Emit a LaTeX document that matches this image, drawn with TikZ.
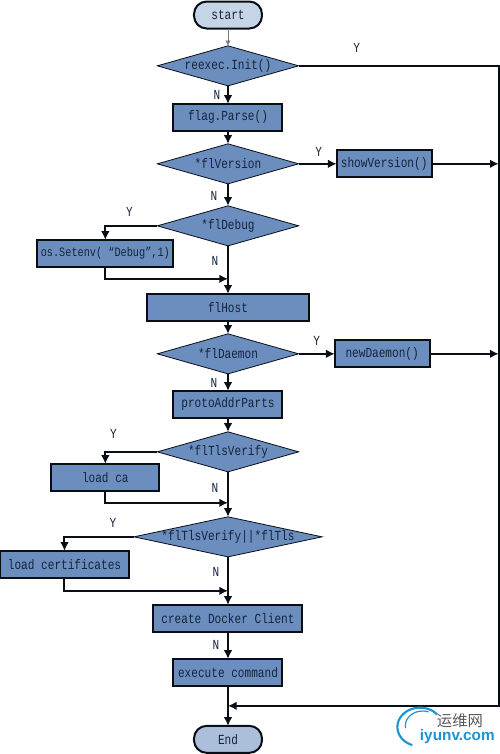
\documentclass[tikz,border=0pt]{standalone}
\usepackage{fontspec}
\usepackage{xcolor}
\usepackage{tikz}
\usetikzlibrary{arrows.meta,positioning,calc,shapes.geometric}
\newfontfamily\cjk{Noto Sans CJK SC}
\newfontfamily\logofont{Liberation Sans}
\newfontfamily\flowfont[FakeStretch=0.8]{Liberation Mono}
\definecolor{ink}{HTML}{080D16}
\definecolor{textink}{HTML}{14233A}
\definecolor{steel}{HTML}{6C8EBF}
\definecolor{pale}{HTML}{C6D4E7}
\definecolor{swirl}{HTML}{1E93D2}
\tikzset{
  >={Latex[length=6.5pt,width=6.5pt]},
  every node/.style={font=\flowfont\fontsize{10.4}{12}\selectfont,text=textink,outer sep=0pt},
  procbox/.style={draw=ink,line width=1.5pt,fill=steel,align=center,inner sep=0pt,minimum height=20.25pt},
  decision/.style={diamond,draw=ink,line width=.6pt,fill=steel,inner sep=0pt,aspect=3.5,minimum height=30pt},
  terminal/.style={draw=ink,line width=1.5pt,rounded corners=9.5pt,inner sep=0pt,minimum width=51pt,minimum height=20.25pt},
  arrow/.style={->,line width=1.5pt,draw=ink},
  faint/.style={->,line width=.4pt,draw=ink!55,>={Latex[length=4pt,width=4pt]}},
  yn/.style={inner sep=0pt},
  logotext/.style={inner sep=0pt,text=swirl}
}
\begin{document}
\begin{tikzpicture}
  \useasboundingbox (-171pt,11.25pt) rectangle (204pt,-554.25pt);

  \node[terminal,fill=pale] (start) at (0,0) {start};
  \node[decision,minimum width=106pt,below=13pt of start] (reexec) {reexec.Init()};
  \node[procbox,minimum width=81.75pt,below=13.5pt of reexec] (flag) {flag.Parse()};
  \node[decision,minimum width=106pt,below=9.75pt of flag] (version) {*flVersion};
  \node[decision,minimum width=106pt,below=16.5pt of version] (debug) {*flDebug};
  \node[procbox,minimum width=122pt,below=36pt of debug] (host) {flHost};
  \node[decision,minimum width=106pt,below=9.75pt of host] (daemon) {*flDaemon};
  \node[procbox,minimum width=81.75pt,below=12.75pt of daemon] (proto) {protoAddrParts};
  \node[decision,minimum width=106pt,below=10.5pt of proto] (tlsverify) {*flTlsVerify};
  \node[decision,aspect=4.7,inner xsep=-2.5pt,minimum width=141pt,below=33.75pt of tlsverify] (tlsor) {*flTlsVerify||*flTls};
  \node[procbox,minimum width=111.75pt,below=36pt of tlsor] (client) {create Docker Client};
  \node[procbox,minimum width=81.75pt,below=20.25pt of client] (exec) {execute command};
  \node[terminal,fill=pale!70!steel,below=30pt of exec] (finish) {End};

  \node[procbox,minimum width=71.25pt,right=28.5pt of version] (showver) {showVersion()};
  \node[procbox,minimum width=71.25pt,right=27pt of daemon] (newdaemon) {newDaemon()};
  \node[procbox,minimum width=102pt,left=-12pt of debug,yshift=-20.6pt] (setenv) {\fontsize{9.6}{11}\selectfont os.Setenv( “Debug”,1)};
  \node[procbox,minimum width=81pt,left=-1.5pt of tlsverify,yshift=-19.1pt] (loadca) {load ca};
  \node[procbox,minimum width=96.75pt,left=3.75pt of tlsor,yshift=-20.6pt] (loadcert) {load certificates};

  \coordinate[right=150pt of reexec] (railtop);
  \coordinate[below=24.75pt of debug] (joindebug);
  \coordinate[below=23.25pt of tlsverify] (joinca);
  \coordinate[below=25.5pt of tlsor] (joincert);
  \coordinate (backin) at ($(exec.south)!.5!(finish.north)$);

  \draw[faint] (start) -- (reexec);
  \draw[arrow] (reexec) -- (flag);
  \draw[arrow] (flag) -- (version);
  \draw[arrow] (version) -- (debug);
  \draw[arrow] (debug) -- (host);
  \draw[arrow] (host) -- (daemon);
  \draw[arrow] (daemon) -- (proto);
  \draw[arrow] (proto) -- (tlsverify);
  \draw[arrow] (tlsverify) -- (tlsor);
  \draw[arrow] (tlsor) -- (client);
  \draw[arrow] (client) -- (exec);
  \draw[arrow] (exec) -- (finish);

  \draw[arrow] (version) -- (showver);
  \draw[arrow] (daemon) -- (newdaemon);
  \draw[arrow] (showver) -- (showver -| railtop);
  \draw[arrow] (newdaemon) -- (newdaemon -| railtop);
  \draw[arrow] (reexec.east) -- (railtop) |- (backin);

  \draw[arrow] (debug.west) -| (setenv.north);
  \draw[arrow] (setenv.south) |- (joindebug);
  \draw[arrow] (tlsverify.west) -| (loadca.north);
  \draw[arrow] (loadca.south) |- (joinca);
  \draw[arrow] (tlsor.west) -| (loadcert.north);
  \draw[arrow] (loadcert.south) |- (joincert);

  \node[yn,xshift=43.5pt,yshift=13.5pt] (yreexec) at (reexec.east) {Y};
  \node[yn,xshift=-8.25pt,yshift=-6.75pt] (nreexec) at (reexec.south) {N};
  \node[yn,xshift=15pt,yshift=9pt] (yversion) at (version.east) {Y};
  \node[yn,xshift=-10.5pt,yshift=-9pt] (nversion) at (version.south) {N};
  \node[yn,xshift=-21pt,yshift=10.5pt] (ydebug) at (debug.west) {Y};
  \node[yn,xshift=-9.75pt,yshift=-11.25pt] (ndebug) at (debug.south) {N};
  \node[yn,xshift=13.5pt,yshift=9.75pt] (ydaemon) at (daemon.east) {Y};
  \node[yn,xshift=-10.5pt,yshift=-6.75pt] (ndaemon) at (daemon.south) {N};
  \node[yn,xshift=-33pt,yshift=13.5pt] (ytlsverify) at (tlsverify.west) {Y};
  \node[yn,xshift=-9.75pt,yshift=-12pt] (ntlsverify) at (tlsverify.south) {N};
  \node[yn,xshift=-15.75pt,yshift=10.5pt] (ytlsor) at (tlsor.west) {Y};
  \node[yn,xshift=-9pt,yshift=-11.25pt] (ntlsor) at (tlsor.south) {N};
  \node[yn,xshift=-9pt,yshift=-9.75pt] (nclient) at (client.south) {N};

  \node[logotext,font=\cjk\fontsize{11.5}{12}\selectfont,text=black!65] (logocn) at (174pt,-529pt) {运维网};
  \node[logotext,font=\logofont\bfseries\fontsize{11.5}{12}\selectfont] (logoen) at (172pt,-541.5pt) {iyunv.com};
  \draw[swirl,line width=1.6pt] (138.2pt,-547.6pt) arc (250:40:17pt and 14.5pt);
  \draw[swirl,line width=.9pt] (133.2pt,-534.9pt) arc (190:70:13pt and 11pt);
\end{tikzpicture}
\end{document}
